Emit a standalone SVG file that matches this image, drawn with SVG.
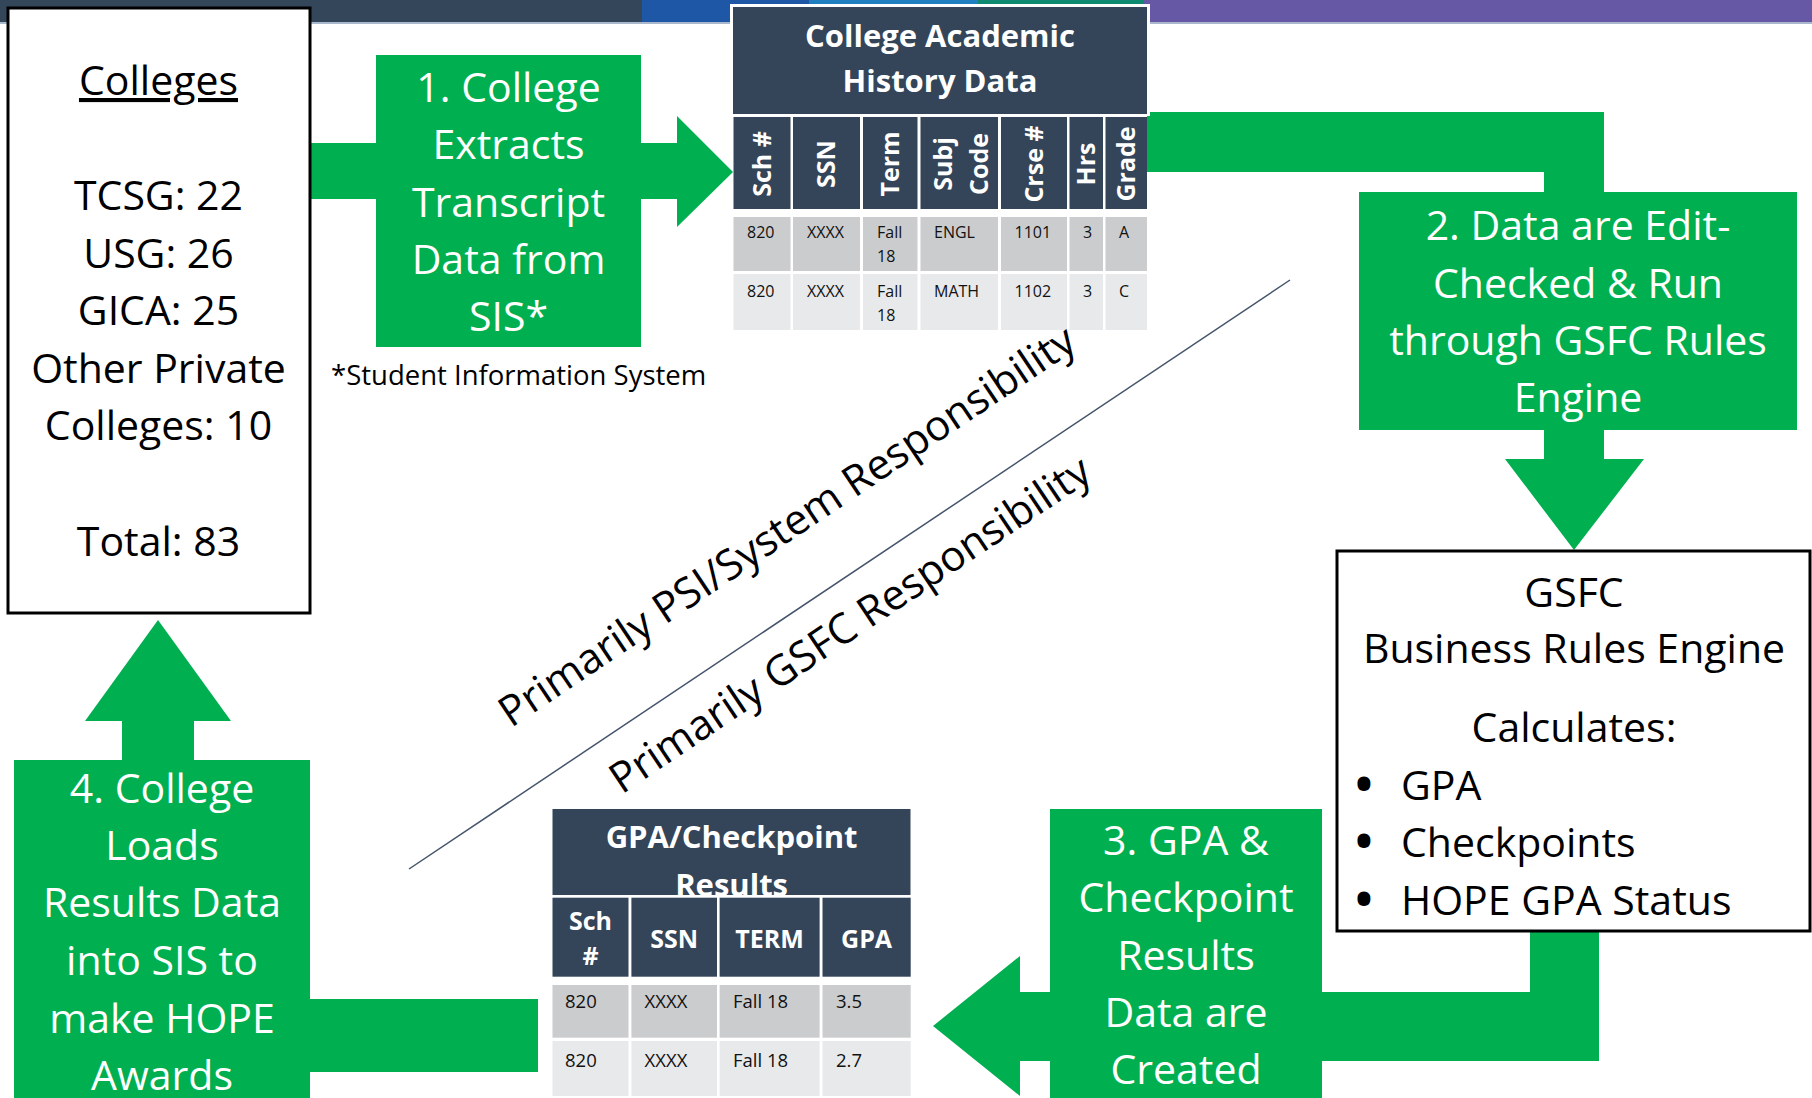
<svg xmlns="http://www.w3.org/2000/svg" width="1812" height="1098" viewBox="0 0 1812 1098">
<style>
.grn{fill:#00b050}
.t{font-family:"Open Sans","Noto Sans",sans-serif;font-size:41px;text-anchor:middle}
.ts{font-family:"Open Sans","Noto Sans",sans-serif;font-size:41px;text-anchor:start;fill:#000}
.bu{font-family:"Open Sans","Noto Sans",sans-serif;font-size:46px;font-weight:700;text-anchor:middle;fill:#000}
.d{font-family:"Open Sans","Noto Sans",sans-serif;font-size:42px;text-anchor:middle;fill:#000}
.w{fill:#ffffff}
.k{fill:#000000}
.hdr{fill:#344559}
.th{font-family:"Open Sans","Noto Sans",sans-serif;font-size:31px;font-weight:700;fill:#fff;text-anchor:middle}
.ch{font-family:"Open Sans","Noto Sans",sans-serif;font-size:25px;font-weight:700;fill:#fff;text-anchor:middle}
.r1{fill:#cbcccd}
.r2{fill:#e8e9ea}
.td{font-family:"Open Sans","Noto Sans",sans-serif;font-size:16px;fill:#111}
.td2{font-family:"Open Sans","Noto Sans",sans-serif;font-size:18.5px;fill:#111}
</style>
<rect width="1812" height="1098" fill="#ffffff"/>
<g id="top-band">
<rect x="0" y="0" width="642" height="23" fill="#34465a"/>
<rect x="642" y="0" width="167" height="23" fill="#1d57a6"/>
<rect x="809" y="0" width="169" height="23" fill="#1f7fc1"/>
<rect x="978" y="0" width="166" height="23" fill="#0f8a70"/>
<rect x="1144" y="0" width="668" height="23" fill="#6758a6"/>
<rect x="0" y="22" width="1812" height="2" fill="#a9b8cc"/>
</g>
<g id="connectors">
<rect class="grn" x="311" y="143" width="367" height="56"/>
<polygon class="grn" points="677,116 733,172 677,227"/>
<path class="grn" d="M1147,112 H1604 V459 H1644 L1574,550 L1505,459 H1544 V172 H1147 Z"/>
<path class="grn" d="M1530,931 H1599 V1061 H1020 V1096 L933,1026 L1020,956 V992 H1530 Z"/>
<rect class="grn" x="309" y="999" width="229" height="73"/>
<rect class="grn" x="122" y="718" width="72" height="44"/>
<polygon class="grn" points="85,721 158,620 231,721"/>
<line x1="409" y1="869" x2="1290" y2="280" stroke="#44546a" stroke-width="1.5"/>
</g>
<g id="colleges">
<rect x="8" y="8" width="302" height="605" fill="#fff" stroke="#000" stroke-width="3"/>
<text class="t k" x="158.5" y="95" text-decoration="underline">Colleges</text>
<text class="t k" x="158.5" y="210">TCSG: 22</text>
<text class="t k" x="158.5" y="268">USG: 26</text>
<text class="t k" x="158.5" y="325">GICA: 25</text>
<text class="t k" x="158.5" y="383">Other Private</text>
<text class="t k" x="158.5" y="440">Colleges: 10</text>
<text class="t k" x="158.5" y="556">Total: 83</text>
</g>
<g id="step1">
<rect class="grn" x="376" y="55" width="265" height="292"/>
<text class="t w" x="508.5" y="102">1. College</text>
<text class="t w" x="508.5" y="159">Extracts</text>
<text class="t w" x="508.5" y="217">Transcript</text>
<text class="t w" x="508.5" y="274">Data from</text>
<text class="t w" x="508.5" y="331">SIS*</text>
</g>
<g id="footnote">
<text x="331" y="385" font-family="Open Sans, Noto Sans, sans-serif" font-size="27.5" fill="#000">*Student Information System</text>
</g>
<g id="table1">
<rect x="730" y="4" width="420" height="112" fill="#fff"/>
<rect class="hdr" x="733" y="7" width="414" height="107"/>
<text class="th" x="940" y="47">College Academic</text>
<text class="th" x="940" y="92">History Data</text>
<rect class="hdr" x="733.5" y="117" width="57" height="92"/>
<rect class="hdr" x="793" y="117" width="67" height="92"/>
<rect class="hdr" x="863" y="117" width="54.5" height="92"/>
<rect class="hdr" x="920.5" y="117" width="77.5" height="92"/>
<rect class="hdr" x="1001" y="117" width="66" height="92"/>
<rect class="hdr" x="1069.5" y="117" width="33.5" height="92"/>
<rect class="hdr" x="1105.5" y="117" width="41.5" height="92"/>
<text class="ch" transform="translate(771,164) rotate(-90)">Sch #</text>
<text class="ch" transform="translate(835,164) rotate(-90)">SSN</text>
<text class="ch" transform="translate(899,164) rotate(-90)">Term</text>
<text class="ch" transform="translate(952,164) rotate(-90)">Subj</text>
<text class="ch" transform="translate(988,164) rotate(-90)">Code</text>
<text class="ch" transform="translate(1043,164) rotate(-90)">Crse #</text>
<text class="ch" transform="translate(1095,164) rotate(-90)">Hrs</text>
<text class="ch" transform="translate(1135,164) rotate(-90)">Grade</text>
<rect class="r1" x="733.5" y="217" width="57" height="54"/>
<rect class="r1" x="793" y="217" width="67" height="54"/>
<rect class="r1" x="863" y="217" width="54.5" height="54"/>
<rect class="r1" x="920.5" y="217" width="77.5" height="54"/>
<rect class="r1" x="1001" y="217" width="66" height="54"/>
<rect class="r1" x="1069.5" y="217" width="33.5" height="54"/>
<rect class="r1" x="1105.5" y="217" width="41.5" height="54"/>
<rect class="r2" x="733.5" y="274" width="57" height="56"/>
<rect class="r2" x="793" y="274" width="67" height="56"/>
<rect class="r2" x="863" y="274" width="54.5" height="56"/>
<rect class="r2" x="920.5" y="274" width="77.5" height="56"/>
<rect class="r2" x="1001" y="274" width="66" height="56"/>
<rect class="r2" x="1069.5" y="274" width="33.5" height="56"/>
<rect class="r2" x="1105.5" y="274" width="41.5" height="56"/>
<text class="td" x="747" y="238">820</text>
<text class="td" x="807" y="238">XXXX</text>
<text class="td" x="877" y="238">Fall</text>
<text class="td" x="877" y="262">18</text>
<text class="td" x="934" y="238">ENGL</text>
<text class="td" x="1014.5" y="238">1101</text>
<text class="td" x="1083" y="238">3</text>
<text class="td" x="1119" y="238">A</text>
<text class="td" x="747" y="297">820</text>
<text class="td" x="807" y="297">XXXX</text>
<text class="td" x="877" y="297">Fall</text>
<text class="td" x="877" y="321">18</text>
<text class="td" x="934" y="297">MATH</text>
<text class="td" x="1014.5" y="297">1102</text>
<text class="td" x="1083" y="297">3</text>
<text class="td" x="1119" y="297">C</text>
</g>
<g id="step2">
<rect class="grn" x="1359" y="192" width="438" height="238"/>
<text class="t w" x="1578" y="240">2. Data are Edit-</text>
<text class="t w" x="1578" y="298">Checked &amp; Run</text>
<text class="t w" x="1578" y="355">through GSFC Rules</text>
<text class="t w" x="1578" y="412">Engine</text>
</g>
<g id="gsfc">
<rect x="1337" y="551" width="473" height="380" fill="#fff" stroke="#000" stroke-width="3"/>
<text class="t k" x="1574" y="607">GSFC</text>
<text class="t k" x="1574" y="663">Business Rules Engine</text>
<text class="t k" x="1574" y="742">Calculates:</text>
<text class="bu" x="1364" y="801">•</text>
<text class="ts" x="1401" y="800">GPA</text>
<text class="bu" x="1364" y="858">•</text>
<text class="ts" x="1401" y="857">Checkpoints</text>
<text class="bu" x="1364" y="916">•</text>
<text class="ts" x="1401" y="915">HOPE GPA Status</text>
</g>
<g id="step3">
<rect class="grn" x="1050" y="809" width="272" height="289"/>
<text class="t w" x="1186" y="855">3. GPA &amp;</text>
<text class="t w" x="1186" y="912">Checkpoint</text>
<text class="t w" x="1186" y="970">Results</text>
<text class="t w" x="1186" y="1027">Data are</text>
<text class="t w" x="1186" y="1084">Created</text>
</g>
<g id="table2">
<rect class="hdr" x="552.5" y="809" width="358" height="86"/>
<text class="th" x="731.6" y="848">GPA/Checkpoint</text>
<text class="th" x="731.6" y="896">Results</text>
<rect x="552.5" y="895" width="358" height="3" fill="#fff"/>
<rect class="hdr" x="552.5" y="897.7" width="76" height="79"/>
<rect class="hdr" x="631.4" y="897.7" width="85.6" height="79"/>
<rect class="hdr" x="719.6" y="897.7" width="100" height="79"/>
<rect class="hdr" x="822.5" y="897.7" width="88.2" height="79"/>
<text class="ch" x="590.5" y="930">Sch</text>
<text class="ch" x="590.5" y="965">#</text>
<text class="ch" x="674.2" y="948">SSN</text>
<text class="ch" x="769.6" y="948">TERM</text>
<text class="ch" x="866.6" y="948">GPA</text>
<rect class="r1" x="552.5" y="985" width="76" height="52.7"/>
<rect class="r1" x="631.4" y="985" width="85.6" height="52.7"/>
<rect class="r1" x="719.6" y="985" width="100" height="52.7"/>
<rect class="r1" x="822.5" y="985" width="88.2" height="52.7"/>
<rect class="r2" x="552.5" y="1041" width="76" height="55"/>
<rect class="r2" x="631.4" y="1041" width="85.6" height="55"/>
<rect class="r2" x="719.6" y="1041" width="100" height="55"/>
<rect class="r2" x="822.5" y="1041" width="88.2" height="55"/>
<text class="td2" x="565" y="1008">820</text>
<text class="td2" x="644.6" y="1008">XXXX</text>
<text class="td2" x="733" y="1008">Fall 18</text>
<text class="td2" x="836" y="1008">3.5</text>
<text class="td2" x="565" y="1067">820</text>
<text class="td2" x="644.6" y="1067">XXXX</text>
<text class="td2" x="733" y="1067">Fall 18</text>
<text class="td2" x="836" y="1067">2.7</text>
</g>
<g id="step4">
<rect class="grn" x="14" y="760" width="296" height="338"/>
<text class="t w" x="162" y="803">4. College</text>
<text class="t w" x="162" y="860">Loads</text>
<text class="t w" x="162" y="917">Results Data</text>
<text class="t w" x="162" y="975">into SIS to</text>
<text class="t w" x="162" y="1033">make HOPE</text>
<text class="t w" x="162" y="1090">Awards</text>
</g>
<g id="responsibility-labels">
<text class="d" transform="translate(795,538) rotate(-33.81)">Primarily PSI/System Responsibility</text>
<text class="d" transform="translate(858,636.5) rotate(-33.81)">Primarily GSFC Responsibility</text>
</g>
</svg>
